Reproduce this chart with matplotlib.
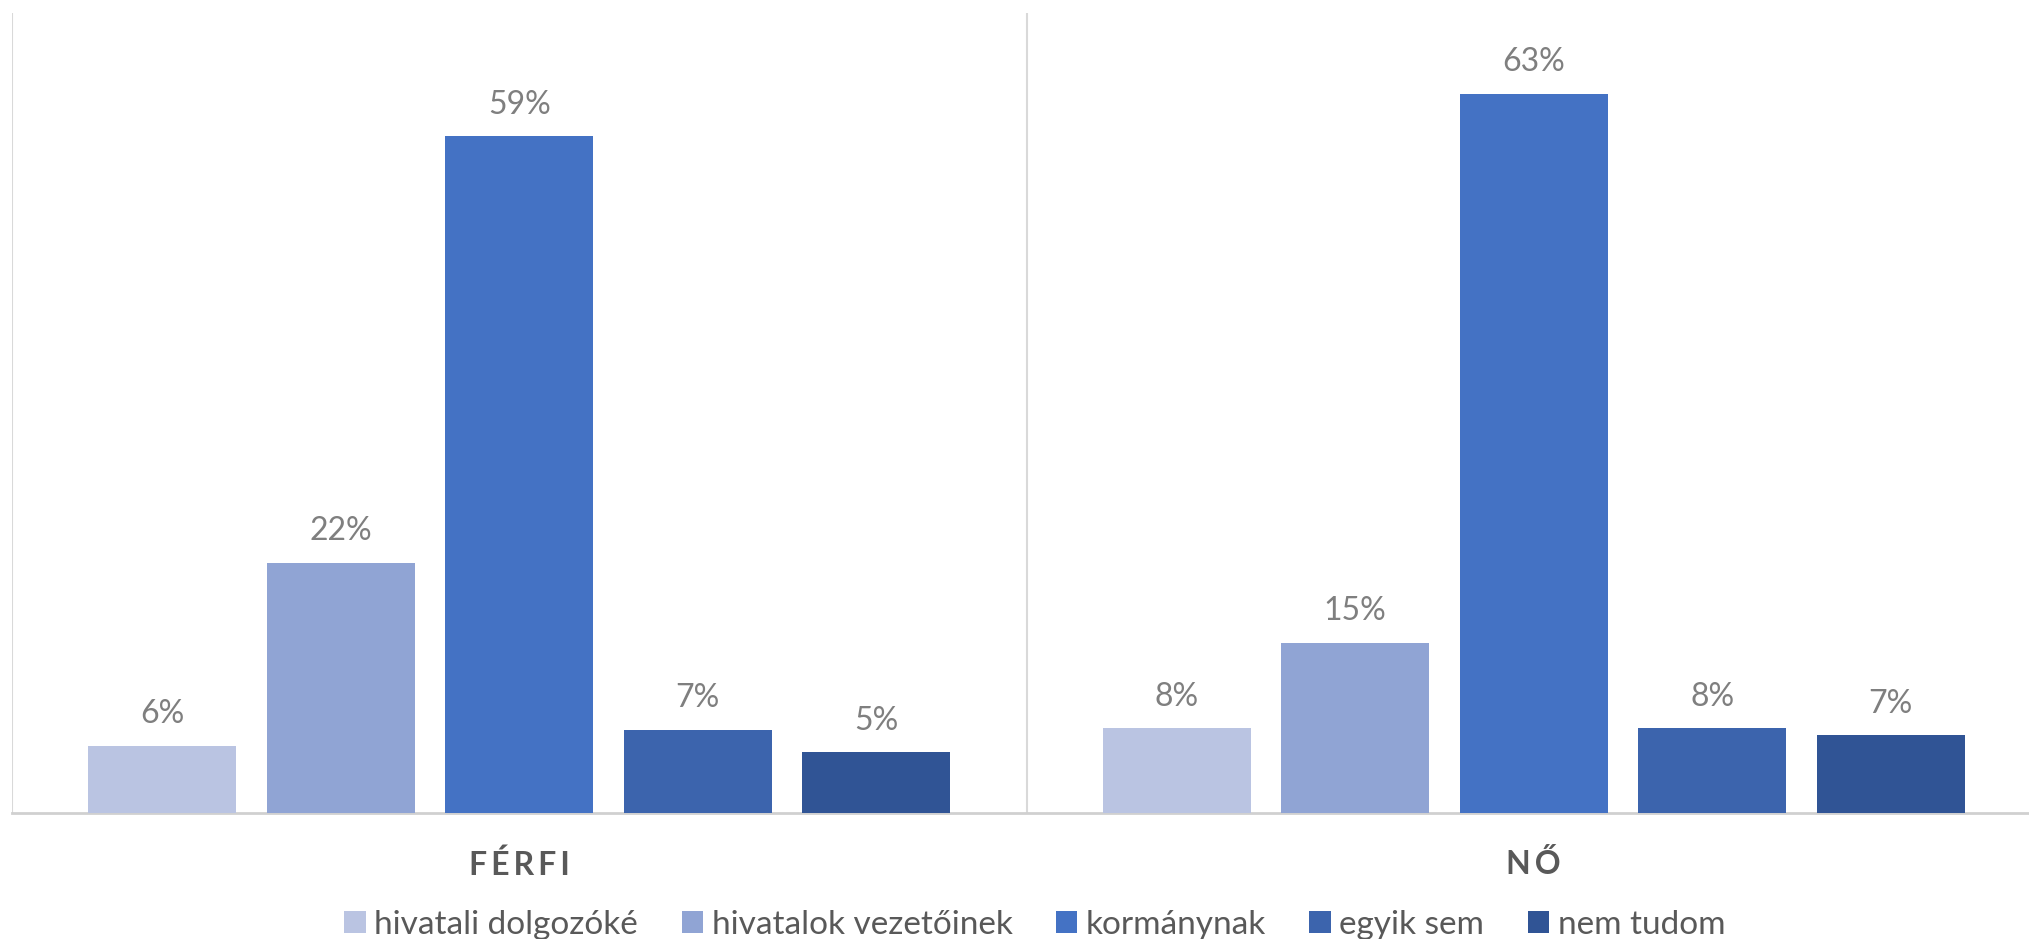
import numpy as np
import matplotlib.pyplot as plt
from matplotlib.patches import Patch

# Data (percent)
groups = ["FÉRFI", "NŐ"]
answers = ["hivatali dolgozóké", "hivatalok vezetőinek", "kormánynak", "egyik sem", "nem tudom"]
ferfi = [5.85, 21.9, 59.2, 7.25, 5.3]
no = [7.4, 14.9, 62.9, 7.4, 6.8]
labels_ferfi = ["6%", "22%", "59%", "7%", "5%"]
labels_no = ["8%", "15%", "63%", "8%", "7%"]
colors = ["#BAC4E2", "#90A4D4", "#4472C4", "#3C64AD", "#305495"]

plt.rcParams['font.family'] = ['Lato', 'DejaVu Sans']

W, H = 2029, 939
fig = plt.figure(figsize=(W / 100, H / 100), dpi=100)
ax = fig.add_axes([12 / W, (H - 813) / H, 2029 / W, 800 / H])

x = np.arange(len(groups))
step = 0.176
width = 0.146
values = np.array([ferfi, no])
labels = [labels_ferfi, labels_no]

for i in range(len(answers)):
    bars = ax.bar(x + (i - 2) * step, values[:, i], width=width, color=colors[i],
                  label=answers[i], zorder=3)
    ax.bar_label(bars, labels=[labels[g][i] for g in range(len(groups))],
                 padding=12, fontsize=23, color="#7F7F7F")

ax.set_xlim(-0.5, 1.5)
ax.set_ylim(0, 70)

# separators between categories
for xv in [-0.5, 0.5, 1.5]:
    ax.axvline(xv, color="#D9D9D9", lw=1.5, zorder=1)

for s in ["top", "right", "left"]:
    ax.spines[s].set_visible(False)
ax.spines["bottom"].set_color("#D0D0D0")
ax.spines["bottom"].set_linewidth(2)
ax.set_yticks([])
ax.set_xticks(x)
# spread letters like the original
ax.set_xticklabels(["\u2009".join(g) for g in groups], fontsize=23,
                   fontweight="bold", color="#595959")
ax.tick_params(axis="x", length=0, pad=26)

handles = [Patch(facecolor=c) for c in colors]
fig.legend(handles, answers, loc="center", bbox_to_anchor=(0.51, (H - 925) / H),
           ncol=5, frameon=False, fontsize=24, labelcolor="#595959",
           handlelength=0.65, handleheight=0.65, handletextpad=0.25,
           columnspacing=1.3)

fig.savefig("out.png", dpi=100)
